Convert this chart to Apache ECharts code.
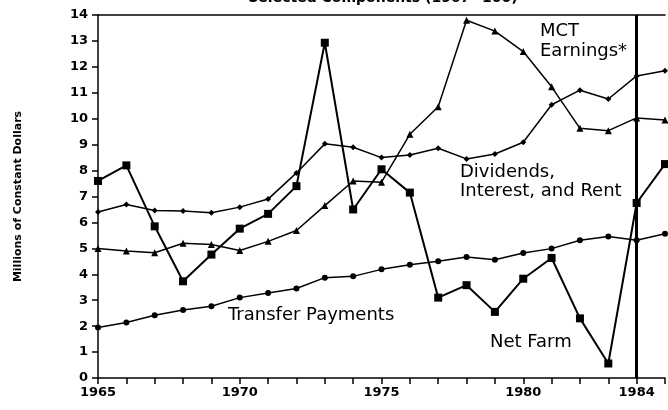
<!DOCTYPE html>
<html>
<head>
<meta charset="utf-8">
<script src="https://cdn.jsdelivr.net/npm/echarts@6/dist/echarts.min.js"></script>
<style>html,body{margin:0;padding:0;background:#fff;}#c{width:668px;height:410px;}</style>
</head>
<body>
<div id="c"></div>
<script>
const years = [1965,1966,1967,1968,1969,1970,1971,1972,1973,1974,1975,1976,1977,1978,1979,1980,1981,1982,1983,1984,1985];
const netFarm = [7.6,8.2,5.85,3.73,4.76,5.76,6.33,7.4,12.93,6.5,8.05,7.15,3.1,3.58,2.55,3.83,4.63,2.3,0.56,6.75,8.25];
const mctEarnings = [4.99,4.9,4.83,5.2,5.15,4.92,5.27,5.69,6.65,7.6,7.55,9.4,10.46,13.8,13.38,12.59,11.23,9.63,9.54,10.03,9.95];
const dividends = [6.4,6.69,6.46,6.44,6.37,6.59,6.9,7.91,9.03,8.9,8.5,8.6,8.86,8.45,8.64,9.09,10.54,11.1,10.76,11.65,11.85];
const transfer = [1.95,2.14,2.42,2.62,2.77,3.1,3.28,3.45,3.87,3.92,4.19,4.37,4.5,4.67,4.56,4.82,4.99,5.31,5.46,5.31,5.56];
const xLabels = [1965,1970,1975,1980,1984];
const markerYear = 1984;

const pairs = arr => years.map((y,i)=>[y,arr[i]]);
const chart = echarts.init(document.getElementById('c'));
const boldAxis = {color:'#000', fontFamily:'DejaVu Sans', fontWeight:'bold', fontSize:13};
const lineSeries = (name, arr, symbol, size, width) => ({
  name, type:'line', data: pairs(arr), symbol, symbolSize:size,
  lineStyle:{color:'#000', width:width}, itemStyle:{color:'#000'}, animation:false, z:3
});
chart.setOption({
  animation:false,
  grid:{left:98, right:0, top:15, bottom:32},
  xAxis:[{
    type:'value', min:1965, max:1985, interval:1,
    axisLine:{lineStyle:{color:'#000', width:1.5}},
    axisTick:{inside:false, length:6, lineStyle:{color:'#000', width:1.5}},
    splitLine:{show:false},
    axisLabel:Object.assign({margin:8, formatter: v => xLabels.includes(v) ? String(v) : ''}, boldAxis)
  },{
    type:'value', position:'top', min:1965, max:1985,
    axisLine:{show:true, lineStyle:{color:'#000', width:1.5}},
    axisTick:{show:false}, axisLabel:{show:false}, splitLine:{show:false}
  }],
  yAxis:{
    type:'value', min:0, max:14, interval:1,
    axisLine:{show:true, lineStyle:{color:'#000', width:1.5}},
    axisTick:{show:true, inside:false, length:6, lineStyle:{color:'#000', width:1.5}},
    splitLine:{show:false},
    axisLabel:Object.assign({margin:10}, boldAxis),
    name:'Millions of Constant Dollars', nameLocation:'middle', nameRotate:90, nameGap:74,
    nameTextStyle:{color:'#000', fontFamily:'DejaVu Sans', fontWeight:'bold', fontSize:11}
  },
  series:[
    Object.assign(lineSeries('Net Farm', netFarm, 'rect', 8, 2), {
      markLine:{silent:true, symbol:'none', label:{show:false},
        lineStyle:{color:'#000', width:3, type:'solid'}, data:[{xAxis:markerYear}]}
    }),
    lineSeries('MCT Earnings*', mctEarnings, 'triangle', 7, 1.5),
    lineSeries('Dividends, Interest, and Rent', dividends, 'diamond', 6, 1.5),
    lineSeries('Transfer Payments', transfer, 'circle', 6, 1.5)
  ],
  graphic:[
    {type:'text', x:383, y:-2, style:{text:'Selected Components (1967=100)', textAlign:'center', textVerticalAlign:'middle', font:'bold 14px "DejaVu Sans"', fill:'#000'}},
    {type:'text', x:540, y:21, style:{text:'MCT\nEarnings*', textVerticalAlign:'top', font:'18px "DejaVu Sans"', lineHeight:20, fill:'#000'}},
    {type:'text', x:460, y:163, style:{text:'Dividends,\nInterest, and Rent', textVerticalAlign:'top', font:'18px "DejaVu Sans"', lineHeight:19, fill:'#000'}},
    {type:'text', x:228, y:315, style:{text:'Transfer Payments', textVerticalAlign:'middle', font:'18px "DejaVu Sans"', fill:'#000'}},
    {type:'text', x:490, y:342, style:{text:'Net Farm', textVerticalAlign:'middle', font:'18px "DejaVu Sans"', fill:'#000'}}
  ]
});
</script>
</body>
</html>
